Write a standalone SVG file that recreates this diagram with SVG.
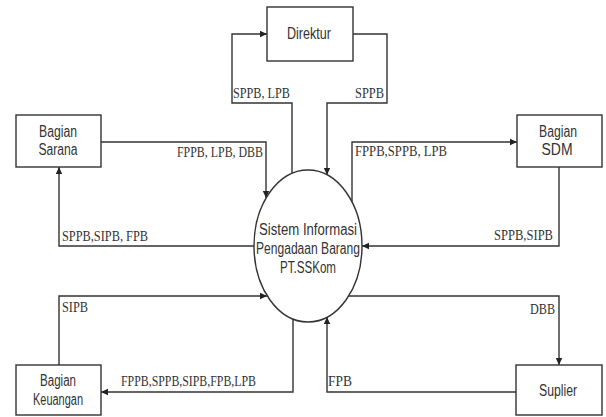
<svg xmlns="http://www.w3.org/2000/svg" width="606" height="417" viewBox="0 0 606 417">
<style>
.box{fill:#fff;stroke:#333;stroke-width:1.4}
.ell{fill:#fff;stroke:#333;stroke-width:1.4}
.ln{fill:none;stroke:#333;stroke-width:1.4}
.nt{font-family:"Liberation Sans",Arial,sans-serif;font-size:16px;fill:#333;text-anchor:middle}
.lb{font-family:"Liberation Serif","Times New Roman",serif;font-size:15px;fill:#333}
</style>
<defs>
<marker id="ah" markerWidth="8" markerHeight="8" refX="7" refY="4" orient="auto" markerUnits="userSpaceOnUse">
<path d="M0,0.8 L7,4 L0,7.2 Z" fill="#222"/>
</marker>
</defs>
<g id="connectors">
<path class="ln" d="M292,200 V103 H232 V34 H267" marker-end="url(#ah)"/>
<path class="ln" d="M353,34 H387 V103 H327 V175" marker-end="url(#ah)"/>
<path class="ln" d="M101,142 H266 V198" marker-end="url(#ah)"/>
<path class="ln" d="M280,246 H59 V167" marker-end="url(#ah)"/>
<path class="ln" d="M352,220 V142 H517" marker-end="url(#ah)"/>
<path class="ln" d="M559,167 V246 H362" marker-end="url(#ah)"/>
<path class="ln" d="M59,365 V296 H267" marker-end="url(#ah)"/>
<path class="ln" d="M293,300 V392 H101" marker-end="url(#ah)"/>
<path class="ln" d="M330,296 H559 V365" marker-end="url(#ah)"/>
<path class="ln" d="M516,392 H327 V317" marker-end="url(#ah)"/>
</g>
<g id="labels">
<text class="lb" x="233" y="98" textLength="57" lengthAdjust="spacingAndGlyphs">SPPB, LPB</text>
<text class="lb" x="355" y="98" textLength="29" lengthAdjust="spacingAndGlyphs">SPPB</text>
<text class="lb" x="177" y="157" textLength="86" lengthAdjust="spacingAndGlyphs">FPPB, LPB, DBB</text>
<text class="lb" x="62" y="241" textLength="86" lengthAdjust="spacingAndGlyphs">SPPB,SIPB, FPB</text>
<text class="lb" x="355" y="156" textLength="92" lengthAdjust="spacingAndGlyphs">FPPB,SPPB, LPB</text>
<text class="lb" x="494" y="240" textLength="59" lengthAdjust="spacingAndGlyphs">SPPB,SIPB</text>
<text class="lb" x="62" y="312" textLength="26" lengthAdjust="spacingAndGlyphs">SIPB</text>
<text class="lb" x="121" y="386" textLength="135" lengthAdjust="spacingAndGlyphs">FPPB,SPPB,SIPB,FPB,LPB</text>
<text class="lb" x="530" y="314" textLength="25" lengthAdjust="spacingAndGlyphs">DBB</text>
<text class="lb" x="328" y="386" textLength="24" lengthAdjust="spacingAndGlyphs">FPB</text>
</g>
<g id="node-direktur">
<rect class="box" x="267" y="7" width="86" height="54"/>
<text class="nt" x="309" y="39" textLength="44" lengthAdjust="spacingAndGlyphs">Direktur</text>
</g>
<g id="node-sarana">
<rect class="box" x="16" y="115" width="85" height="52"/>
<text class="nt" x="58" y="137" textLength="38" lengthAdjust="spacingAndGlyphs">Bagian</text>
<text class="nt" x="58" y="155" textLength="39" lengthAdjust="spacingAndGlyphs">Sarana</text>
</g>
<g id="node-sdm">
<rect class="box" x="517" y="115" width="85" height="52"/>
<text class="nt" x="558" y="137" textLength="38" lengthAdjust="spacingAndGlyphs">Bagian</text>
<text class="nt" x="557" y="155" textLength="31" lengthAdjust="spacingAndGlyphs">SDM</text>
</g>
<g id="node-keuangan">
<rect class="box" x="16" y="365" width="85" height="50"/>
<text class="nt" x="58" y="386" textLength="36" lengthAdjust="spacingAndGlyphs">Bagian</text>
<text class="nt" x="58" y="405" textLength="50" lengthAdjust="spacingAndGlyphs">Keuangan</text>
</g>
<g id="node-suplier">
<rect class="box" x="516" y="365" width="86" height="50"/>
<text class="nt" x="558" y="396" textLength="38" lengthAdjust="spacingAndGlyphs">Suplier</text>
</g>
<g id="node-sistem">
<ellipse class="ell" cx="308" cy="246" rx="54" ry="76"/>
<text class="nt" x="308" y="235" textLength="98" lengthAdjust="spacingAndGlyphs">Sistem Informasi</text>
<text class="nt" x="308" y="254" textLength="104" lengthAdjust="spacingAndGlyphs">Pengadaan Barang</text>
<text class="nt" x="308" y="273" textLength="56" lengthAdjust="spacingAndGlyphs">PT.SSKom</text>
</g>
</svg>
